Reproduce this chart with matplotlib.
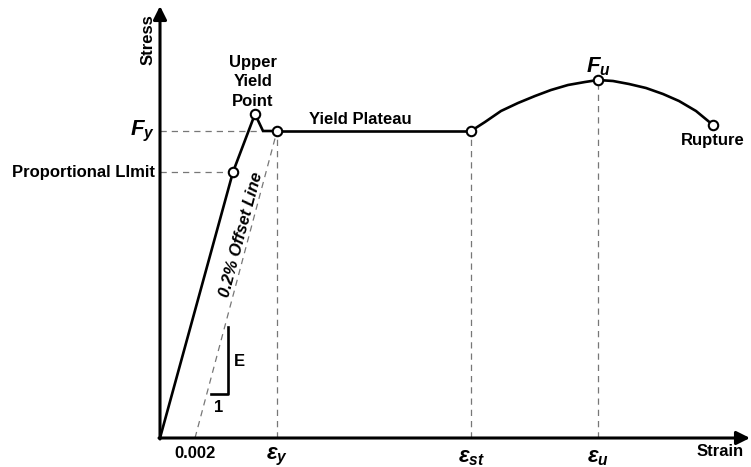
import matplotlib.pyplot as plt

# schematic stress-strain curve (arbitrary units)
plt.rcParams['font.family'] = ['Liberation Sans', 'DejaVu Sans']
plt.rcParams['font.weight'] = 'bold'
plt.rcParams['mathtext.fontset'] = 'custom'
plt.rcParams['mathtext.it'] = 'Liberation Sans:italic:bold'
plt.rcParams['mathtext.rm'] = 'Liberation Sans:bold'

# elastic part + upper yield + drop to plateau
strain_elastic = [0, 73, 95, 103, 117]
stress_elastic = [0, 266, 324, 307, 307]

# plateau
strain_plateau = [117, 311]
stress_plateau = [307, 307]

# strain hardening up to ultimate, then necking to rupture
strain_hard = [311, 325, 341, 358, 375, 391, 408, 425, 438, 453, 469, 486, 503, 519, 536, 553]
stress_hard = [307, 316, 327, 335, 342, 348, 353, 356, 358, 357, 354, 350, 344, 337, 327, 313]

# marked points
mark_strain = [73, 95, 117, 311, 438, 553]
mark_stress = [266, 324, 307, 307, 358, 313]

offset = 35          # 0.002 offset
eps_y, eps_st, eps_u = 117, 311, 438
Fy, Fu, prop = 307, 358, 266

fig = plt.figure(figsize=(7.51, 4.67), dpi=100)
ax = fig.add_axes([0, 0, 1, 1])
ax.set_xlim(-160, 591)
ax.set_ylim(-29, 438)
ax.axis('off')

dash = dict(color='#777777', lw=0.9, ls=(0, (5, 4)))
# guide lines
ax.plot([offset, eps_y], [0, Fy], **dash)
ax.plot([eps_y, eps_y], [0, Fy], **dash)
ax.plot([eps_st, eps_st], [0, Fy], **dash)
ax.plot([eps_u, eps_u], [0, Fu], **dash)
ax.plot([0, 100], [Fy, Fy], **dash)
ax.plot([0, 73], [prop, prop], **dash)

# curve
ax.plot(strain_elastic, stress_elastic, color='k', lw=1.9, solid_joinstyle='miter')
ax.plot(strain_plateau, stress_plateau, color='k', lw=1.9)
ax.plot(strain_hard, stress_hard, color='k', lw=1.9, solid_joinstyle='round')
ax.plot(mark_strain, mark_stress, 'o', ms=6.8, mfc='white', mec='k', mew=1.5, ls='none')

# axes with arrows
ax.annotate('', xy=(0, 432), xytext=(0, -1),
            arrowprops=dict(arrowstyle='-|>', lw=2.2, color='k', mutation_scale=20, shrinkA=0, shrinkB=0))
ax.annotate('', xy=(590, 0), xytext=(-1, 0),
            arrowprops=dict(arrowstyle='-|>', lw=2.2, color='k', mutation_scale=20, shrinkA=0, shrinkB=0))

# slope triangle
ax.plot([51, 68, 68], [44, 44, 111], color='k', lw=1.9)
ax.text(74, 76, 'E', fontsize=12, ha='left', va='center')
ax.text(59, 30, '1', fontsize=12, ha='center', va='center')

# labels
ax.text(-12, 398, 'Stress', fontsize=12, rotation=90, ha='center', va='center')
ax.text(560, -14, 'Strain', fontsize=12, ha='center', va='center')
ax.text(93, 356, 'Upper\nYield\nPoint', fontsize=12, ha='center', va='center', linespacing=1.35)
ax.text(200, 318, 'Yield Plateau', fontsize=12, ha='center', va='center')
ax.text(-5, 266, 'Proportional LImit', fontsize=12, ha='right', va='center')
ax.text(553, 297, 'Rupture', fontsize=12, ha='center', va='center')
ax.text(35, -15, '0.002', fontsize=12, ha='center', va='center')
ax.text(81, 203, '0.2% Offset Line', fontsize=12, style='italic', rotation=75,
        ha='center', va='center')

ax.text(-5, 307, r'$F_y$', fontsize=16, ha='right', va='center')
ax.text(438, 371, r'$F_u$', fontsize=16, ha='center', va='center')
ax.text(eps_y, -19, r'$\varepsilon_y$', fontsize=16, ha='center', va='center')
ax.text(eps_st, -19, r'$\varepsilon_{st}$', fontsize=16, ha='center', va='center')
ax.text(eps_u, -19, r'$\varepsilon_u$', fontsize=16, ha='center', va='center')

fig.savefig('out.png', dpi=100)
